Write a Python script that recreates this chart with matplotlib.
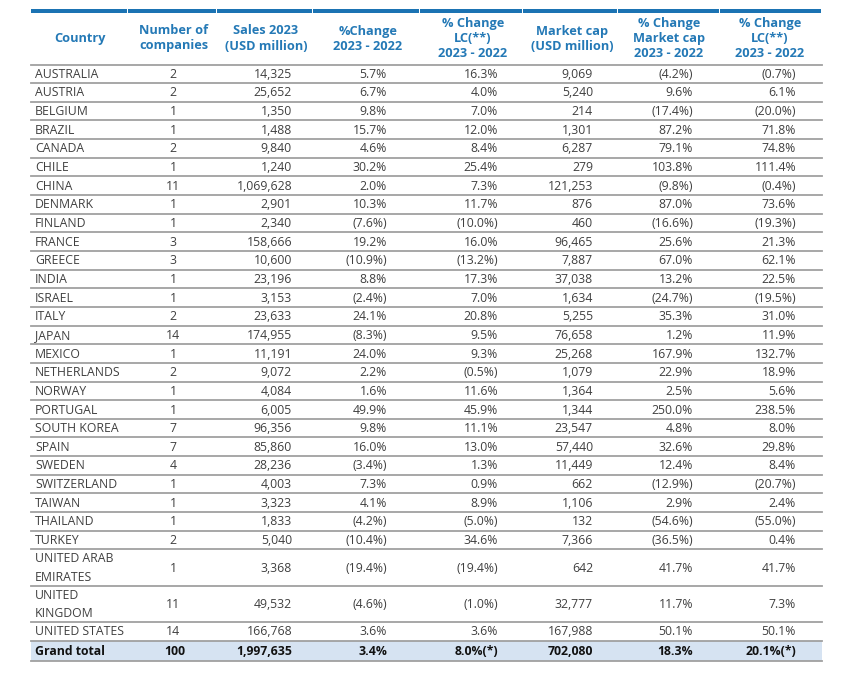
"""Country summary table: sales and market cap, 2023 vs 2022."""

import matplotlib.pyplot as plt

plt.rcParams["font.family"] = ["Open Sans", "DejaVu Sans"]

COUNTRIES = [
    "AUSTRALIA", "AUSTRIA", "BELGIUM", "BRAZIL", "CANADA", "CHILE", "CHINA",
    "DENMARK", "FINLAND", "FRANCE", "GREECE", "INDIA", "ISRAEL", "ITALY",
    "JAPAN", "MEXICO", "NETHERLANDS", "NORWAY", "PORTUGAL", "SOUTH KOREA",
    "SPAIN", "SWEDEN", "SWITZERLAND", "TAIWAN", "THAILAND", "TURKEY",
    "UNITED ARAB\nEMIRATES", "UNITED\nKINGDOM", "UNITED STATES",
]
COMPANIES = [2, 2, 1, 1, 2, 1, 11, 1, 1, 3, 3, 1, 1, 2, 14, 1, 2, 1, 1, 7,
             7, 4, 1, 1, 1, 2, 1, 11, 14]
SALES = [14325, 25652, 1350, 1488, 9840, 1240, 1069628, 2901, 2340, 158666,
         10600, 23196, 3153, 23633, 174955, 11191, 9072, 4084, 6005, 96356,
         85860, 28236, 4003, 3323, 1833, 5040, 3368, 49532, 166768]
SALES_CHG = [5.7, 6.7, 9.8, 15.7, 4.6, 30.2, 2.0, 10.3, -7.6, 19.2, -10.9,
             8.8, -2.4, 24.1, -8.3, 24.0, 2.2, 1.6, 49.9, 9.8, 16.0, -3.4,
             7.3, 4.1, -4.2, -10.4, -19.4, -4.6, 3.6]
SALES_CHG_LC = [16.3, 4.0, 7.0, 12.0, 8.4, 25.4, 7.3, 11.7, -10.0, 16.0,
                -13.2, 17.3, 7.0, 20.8, 9.5, 9.3, -0.5, 11.6, 45.9, 11.1,
                13.0, 1.3, 0.9, 8.9, -5.0, 34.6, -19.4, -1.0, 3.6]
MCAP = [9069, 5240, 214, 1301, 6287, 279, 121253, 876, 460, 96465, 7887,
        37038, 1634, 5255, 76658, 25268, 1079, 1364, 1344, 23547, 57440,
        11449, 662, 1106, 132, 7366, 642, 32777, 167988]
MCAP_CHG = [-4.2, 9.6, -17.4, 87.2, 79.1, 103.8, -9.8, 87.0, -16.6, 25.6,
            67.0, 13.2, -24.7, 35.3, 1.2, 167.9, 22.9, 2.5, 250.0, 4.8, 32.6,
            12.4, -12.9, 2.9, -54.6, -36.5, 41.7, 11.7, 50.1]
MCAP_CHG_LC = [-0.7, 6.1, -20.0, 71.8, 74.8, 111.4, -0.4, 73.6, -19.3, 21.3,
               62.1, 22.5, -19.5, 31.0, 11.9, 132.7, 18.9, 5.6, 238.5, 8.0,
               29.8, 8.4, -20.7, 2.4, -55.0, 0.4, 41.7, 7.3, 50.1]

TOTAL = ["Grand total", "100", "1,997,635", "3.4%", "8.0%(*)", "702,080",
         "18.3%", "20.1%(*)"]

HEADERS = [
    "Country", "Number of\ncompanies", "Sales 2023\n(USD million)",
    "%Change\n2023 - 2022", "% Change\nLC(**)\n2023 - 2022",
    "Market cap\n(USD million)", "% Change\nMarket cap\n2023 - 2022",
    "% Change\nLC(**)\n2023 - 2022",
]

BLUE_BAR = "#1b73b3"
BLUE_TXT = "#2479b6"
GRID = "#a0a0a0"
TXT = "#404040"
TOTAL_BG = "#d6e3f2"

X0, X1 = 31, 822
COL_EDGES = [X0, 128, 217, 313, 420, 523, 618, 720, X1]
HEAD_X = [80, 174, 266, 368, 473, 572, 669, 770]
# (x, alignment) for data cells
CELL_X = [(35, "left"), (173, "center"), (292, "right"), (387, "right"),
          (498, "right"), (593, "right"), (693, "right"), (796, "right")]


def pct(v):
    return f"({abs(v):.1f}%)" if v < 0 else f"{v:.1f}%"


fig = plt.figure(figsize=(8.45, 6.73), dpi=100)
ax = fig.add_axes([0, 0, 1, 1])
ax.set_xlim(0, 845)
ax.set_ylim(673, 0)
ax.axis("off")

# top bar, split at column edges
for a, b in zip(COL_EDGES[:-1], COL_EDGES[1:]):
    ax.fill_between([a + 0.5, b - 0.5], 9.3, 13.3, color=BLUE_BAR, lw=0)

for x, h in zip(HEAD_X, HEADERS):
    ax.text(x, 38.5, h, ha="center", va="center", color=BLUE_TXT,
            fontsize=9.2, fontweight="bold", linespacing=1.2)

y = 64.5
ax.plot([X0, X1], [y, y], color=GRID, lw=1.3)
for i, name in enumerate(COUNTRIES):
    h = 36.3 if "\n" in name else 18.65
    yc = y + h / 2 + 0.5
    cells = [name, str(COMPANIES[i]), f"{SALES[i]:,}", pct(SALES_CHG[i]),
             pct(SALES_CHG_LC[i]), f"{MCAP[i]:,}", pct(MCAP_CHG[i]),
             pct(MCAP_CHG_LC[i])]
    for (x, al), s in zip(CELL_X, cells):
        ax.text(x, yc, s, ha=al, va="center", color=TXT, fontsize=8.8,
                linespacing=1.55)
    y += h
    ax.plot([X0, X1], [y, y], color=GRID, lw=1.3)

# grand total row
h = 20.5
ax.fill_between([X0, X1], y + 0.7, y + h, color=TOTAL_BG, lw=0)
for (x, al), s in zip(CELL_X, TOTAL):
    ax.text(x if al != "center" else x + 2, y + h / 2 + 0.5, s, ha=al,
            va="center", color="#111111", fontsize=8.8, fontweight="bold")
y += h
ax.plot([X0, X1], [y, y], color=GRID, lw=1.3)

fig.savefig("out.png", dpi=100)
